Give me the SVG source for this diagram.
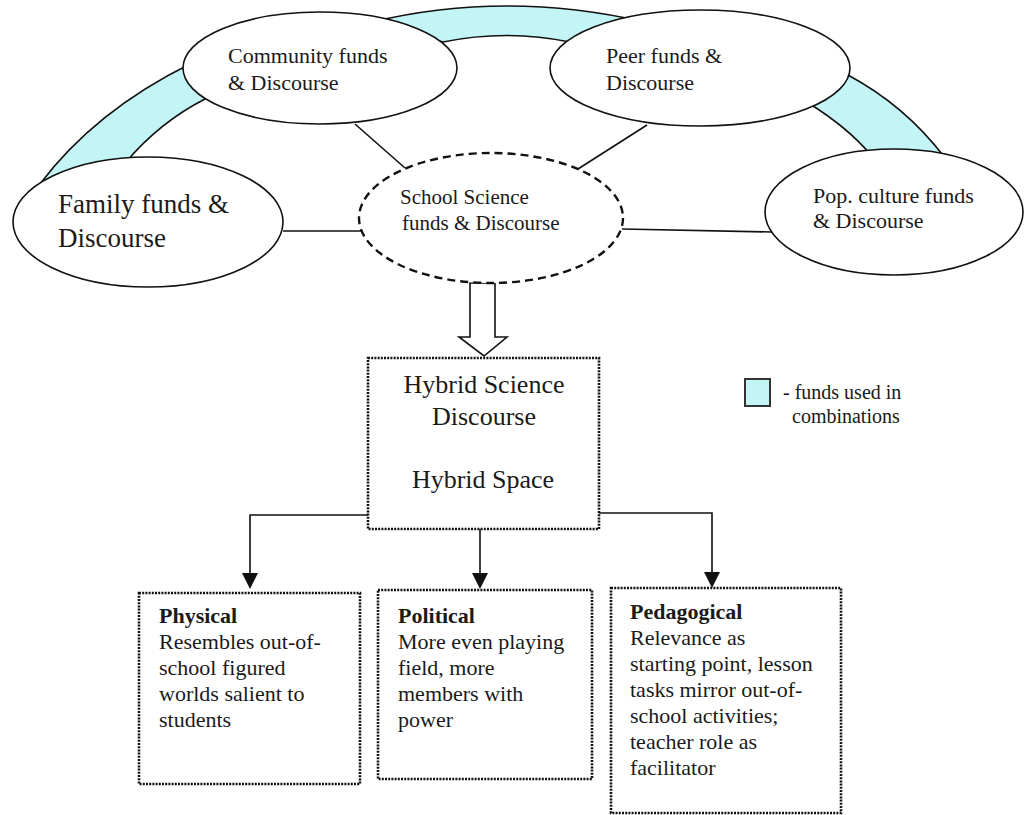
<svg xmlns="http://www.w3.org/2000/svg" width="1026" height="815" viewBox="0 0 1026 815">
<defs>
<style>
.t{font-family:"Liberation Serif","Times New Roman",serif;fill:#1a1a1a}
.s22{font-size:22px}
.s21{font-size:21px}
.s26{font-size:26px}
.s27{font-size:27px}
.b{font-weight:bold}
.ell{fill:#fff;stroke:#111;stroke-width:1.6}
.dash{fill:#fff;stroke:#111;stroke-width:2.4;stroke-dasharray:8 5}
.band{fill:#c3f4f6;stroke:#111;stroke-width:1.6}
.ln{fill:none;stroke:#111;stroke-width:1.6}
.dot{fill:#fff;stroke:#111;stroke-width:2.6;stroke-dasharray:2 1.2}
.head{fill:#111}
</style>
</defs>
<rect width="1026" height="815" fill="#fff"/>
<g id="bands">
<path class="band" d="M40,184 Q95,111 190,64 L205,99 Q160,122 126,162 Z"/>
<path class="band" d="M372,22 Q505,-10 645,22 L570,42 Q506,29 443,42 Z"/>
<path class="band" d="M846,74 Q905,105 945,158 L870,154 Q848,128 810,104 Z"/>
</g>
<g id="connectors">
<line class="ln" x1="355" y1="124" x2="405" y2="168"/>
<line class="ln" x1="647" y1="125" x2="578" y2="169"/>
<line class="ln" x1="283" y1="231" x2="362" y2="231"/>
<line class="ln" x1="622" y1="229" x2="772" y2="232"/>
<polygon class="ln" style="fill:#fff" points="470,283 495,283 495,337 507,337 484,356 459,337 470,337"/>
<path class="ln" d="M368,515 H250 V575"/>
<polygon class="head" points="242,573 258,573 250,589"/>
<path class="ln" d="M480,529 V575"/>
<polygon class="head" points="472,573 488,573 480,589"/>
<path class="ln" d="M599,513 H712 V574"/>
<polygon class="head" points="704,572 720,572 712,588"/>
</g>
<g id="community">
<ellipse class="ell" cx="320" cy="68" rx="137" ry="56"/>
<text class="t s22" x="228" y="63">Community funds</text>
<text class="t s22" x="228" y="90">&amp; Discourse</text>
</g>
<g id="peer">
<ellipse class="ell" cx="700" cy="68" rx="150" ry="58"/>
<text class="t s22" x="606" y="63">Peer funds &amp;</text>
<text class="t s22" x="606" y="90">Discourse</text>
</g>
<g id="family">
<ellipse class="ell" cx="148" cy="222" rx="135" ry="65"/>
<text class="t s27" x="58" y="213">Family funds &amp;</text>
<text class="t s27" x="58" y="247">Discourse</text>
</g>
<g id="school">
<ellipse class="dash" cx="491" cy="218" rx="132" ry="65"/>
<text class="t s21" x="400" y="204">School Science</text>
<text class="t s21" x="402" y="230">funds &amp; Discourse</text>
</g>
<g id="pop">
<ellipse class="ell" cx="894" cy="212" rx="129" ry="63"/>
<text class="t s22" x="813" y="203">Pop. culture funds</text>
<text class="t s22" x="813" y="228">&amp; Discourse</text>
</g>
<g id="hybrid">
<rect class="dot" x="368" y="358" width="231" height="171"/>
<text class="t s26" x="484" y="393" text-anchor="middle">Hybrid Science</text>
<text class="t s26" x="484" y="425" text-anchor="middle">Discourse</text>
<text class="t s26" x="483" y="488" text-anchor="middle">Hybrid Space</text>
</g>
<g id="legend">
<rect x="745" y="379" width="25" height="27" fill="#c3f4f6" stroke="#333" stroke-width="2"/>
<text class="t" style="font-size:20px" x="783" y="399">- funds used in</text>
<text class="t" style="font-size:20px" x="792" y="423">combinations</text>
</g>
<g id="physical">
<rect class="dot" x="139" y="593" width="221" height="191"/>
<text class="t s22 b" x="159" y="623">Physical</text>
<text class="t s22" x="159" y="649">Resembles out-of-</text>
<text class="t s22" x="159" y="675">school figured</text>
<text class="t s22" x="159" y="701">worlds salient to</text>
<text class="t s22" x="159" y="727">students</text>
</g>
<g id="political">
<rect class="dot" x="378" y="590" width="214" height="189"/>
<text class="t s22 b" x="398" y="623">Political</text>
<text class="t s22" x="398" y="649">More even playing</text>
<text class="t s22" x="398" y="675">field, more</text>
<text class="t s22" x="398" y="701">members with</text>
<text class="t s22" x="398" y="727">power</text>
</g>
<g id="pedagogical">
<rect class="dot" x="611" y="588" width="230" height="225"/>
<text class="t s22 b" x="630" y="619">Pedagogical</text>
<text class="t s22" x="630" y="645">Relevance as</text>
<text class="t s22" x="630" y="671">starting point, lesson</text>
<text class="t s22" x="630" y="697">tasks mirror out-of-</text>
<text class="t s22" x="630" y="723">school activities;</text>
<text class="t s22" x="630" y="749">teacher role as</text>
<text class="t s22" x="630" y="775">facilitator</text>
</g>
</svg>
